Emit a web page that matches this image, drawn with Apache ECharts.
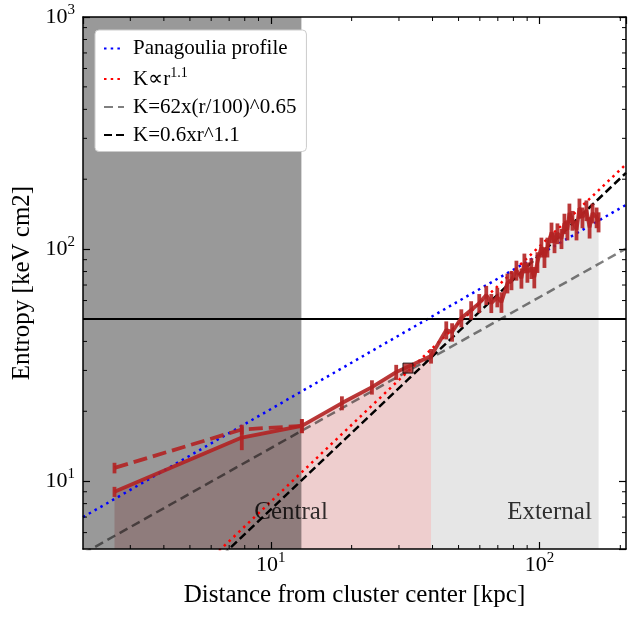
<!DOCTYPE html>
<html>
<head>
<meta charset="utf-8">
<script src="https://cdn.jsdelivr.net/npm/echarts@6/dist/echarts.min.js"></script>
<style>
  html, body { margin: 0; padding: 0; background: #fff; }
  #main { width: 635px; height: 618px; }
</style>
</head>
<body>
<div id="main"></div>
<script>
// entropy profile: radius [kpc], K [keV cm2], error
var rSolid = [2.62, 7.8, 13.05, 18.4, 23.8, 29.3, 39.5, 45.0, 47.3, 51.2, 55.7, 59.7, 63.4, 66.2, 69.7,
  72.2, 76.0, 78.7, 82.1, 85.7, 87.9, 90.2, 93.3, 95.7, 98.3, 101.7, 104.4, 107.1, 110.9, 113.8,
  116.7, 120.8, 123.9, 127.1, 129.3, 132.7, 137.4, 140.9, 144.6, 149.6, 153.7, 157.6, 163.2, 166.0];
var kSolid = [9.0, 15.4, 17.3, 21.7, 25.4, 29.5, 34.6, 44.8, 43.9, 50.5, 54.6, 58.5, 63.4, 58.5, 62.1,
  59.1, 71.4, 73.5, 81.1, 75.0, 87.1, 79.6, 82.8, 75.7, 87.9, 102, 92.4, 102, 118, 107,
  117, 111, 129, 121, 143, 133, 121, 150, 137, 147, 124, 143, 137, 131];
var errSolid = [0.45, 1.8, 1.2, 1.5, 1.8, 2.2, 2.5, 4.0, 4.0, 4.5, 5, 5.5, 6, 5.5, 6,
  6, 7, 7, 8, 7.5, 8.5, 8, 8.5, 8, 9, 10, 9.5, 10, 12, 11,
  12, 11, 13, 12, 14, 13, 12, 15, 14, 15, 13, 14, 14, 13];
var rDash = [2.62, 7.8, 13.05];
var kDash = [11.4, 16.7, 17.3];
var errDash = [0.6, 0.8, 1.2];
var rSquare = [32.4];
var kSquare = [30.7];

// model lines, read at both ends of the x range
var rEnds = [2, 210];
var kPanagoulia = [7.0, 155];
var kSlope = [1.39, 232];
var kFit065 = [4.87, 100.5];
var kFit11 = [1.29, 213];
var kLevel = [50, 50];

var bandR = [2, 13];
var pinkCount = 7;           // points under the pink fill (up to 39.5 kpc)

var noteText = ['Central', 'External'];
var noteR = [11.9, 109];
var noteK = [7.3, 7.3];

var xMin = 2, xMax = 210, yMin = 5.1, yMax = 1000;
var xMinor = [3, 4, 5, 6, 7, 8, 9, 20, 30, 40, 50, 60, 70, 80, 90, 200];
var yMinor = [6, 7, 8, 9, 20, 30, 40, 50, 60, 70, 80, 90, 200, 300, 400, 500, 600, 700, 800, 900];

var FONT = 'Liberation Serif';
var RED = 'rgba(178,34,34,0.9)';

function pts(xs, ys) {
  return xs.map(function (x, i) { return [x, ys[i]]; });
}
function errPts(xs, ys, es) {
  return xs.map(function (x, i) { return [x, ys[i] - es[i], ys[i] + es[i]]; });
}
function powLabel(v) {
  var l = Math.log10(v), e = Math.round(l);
  if (Math.abs(l - e) > 1e-6) return '';
  return '{b|10}{s|' + e + '}';
}
var labelRich = {
  b: { fontSize: 22, fontFamily: FONT, color: '#000' },
  s: { fontSize: 15, fontFamily: FONT, color: '#000', padding: [0, 0, 14, 0] }
};
var spine = { show: true, lineStyle: { color: '#000', width: 1.5 } };
var tick = { show: true, inside: true, length: 7, lineStyle: { color: '#000', width: 1.2 } };

var chart = echarts.init(document.getElementById('main'));
var solidPts = pts(rSolid, kSolid);

var option = {
  animation: false,
  grid: { left: 83, right: 9, top: 17, bottom: 69 },
  legend: {
    data: ['Panagoulia profile', 'K\u221dr', 'K=62x(r/100)^0.65', 'K=0.6xr^1.1'],
    orient: 'vertical',
    left: 95,
    top: 30,
    z: 20,
    padding: [8, 10, 6, 8],
    itemGap: 7,
    itemWidth: 20,
    itemHeight: 14,
    backgroundColor: '#fff',
    borderColor: '#ccc',
    borderWidth: 1,
    borderRadius: 4,
    itemStyle: { opacity: 0 },
    formatter: function (name) {
      if (name === 'K\u221dr') return '{t|K\u221dr}{s|1.1}';
      return '{t|' + name + '}';
    },
    textStyle: {
      color: '#000',
      fontFamily: FONT,
      fontSize: 21,
      padding: [0, 0, 0, 4],
      rich: {
        t: { fontSize: 21, fontFamily: FONT, color: '#000' },
        s: { fontSize: 14, fontFamily: FONT, color: '#000', padding: [0, 0, 12, 0] }
      }
    }
  },
  xAxis: [{
    type: 'log', logBase: 10, min: xMin, max: xMax, z: 10,
    axisLine: spine, axisTick: tick, splitLine: { show: false },
    axisLabel: { formatter: powLabel, rich: labelRich, margin: 2, showMinLabel: false, showMaxLabel: false },
    name: 'Distance from cluster center [kpc]', nameLocation: 'middle', nameGap: 34,
    nameTextStyle: { fontFamily: FONT, fontSize: 25, color: '#000' }
  }, {
    type: 'log', logBase: 10, min: xMin, max: xMax, position: 'top', z: 10,
    axisLine: spine, axisTick: tick, splitLine: { show: false }, axisLabel: { show: false }
  }],
  yAxis: [{
    type: 'log', logBase: 10, min: yMin, max: yMax, z: 10,
    axisLine: spine, axisTick: tick, splitLine: { show: false },
    axisLabel: { formatter: powLabel, rich: labelRich, margin: 8, showMinLabel: false },
    name: 'Entropy [keV cm2]', nameLocation: 'middle', nameGap: 45,
    nameTextStyle: { fontFamily: FONT, fontSize: 25, color: '#000' }
  }, {
    type: 'log', logBase: 10, min: yMin, max: yMax, position: 'right', z: 10,
    axisLine: spine, axisTick: tick, splitLine: { show: false }, axisLabel: { show: false }
  }],
  series: [
    {
      name: 'pinkFill', type: 'line', z: 1, silent: true, symbol: 'none',
      data: solidPts.slice(0, pinkCount),
      lineStyle: { width: 0 },
      areaStyle: { color: 'rgba(178,34,34,0.22)', origin: 'start', opacity: 1 }
    },
    {
      name: 'grayFill', type: 'line', z: 1, silent: true, symbol: 'none',
      data: solidPts.slice(pinkCount - 1),
      lineStyle: { width: 0 },
      areaStyle: { color: 'rgba(128,128,128,0.2)', origin: 'start', opacity: 1 }
    },
    {
      name: 'K=62x(r/100)^0.65', type: 'line', z: 2, symbol: 'none',
      data: pts(rEnds, kFit065),
      lineStyle: { color: 'rgba(0,0,0,0.5)', width: 2.5, type: [9, 5] },
      itemStyle: { color: 'rgba(0,0,0,0.5)' }
    },
    {
      name: 'centralBand', type: 'line', z: 3, silent: true, symbol: 'none',
      data: [[bandR[0], yMax], [bandR[1], yMax]],
      lineStyle: { width: 0 },
      areaStyle: { color: 'rgba(0,0,0,0.4)', origin: 'start', opacity: 1 }
    },
    {
      name: 'Panagoulia profile', type: 'line', z: 4, symbol: 'none',
      data: pts(rEnds, kPanagoulia),
      lineStyle: { color: '#0000ff', width: 2.5, type: [2.5, 4.2] },
      itemStyle: { color: '#0000ff' }
    },
    {
      name: 'K\u221dr', type: 'line', z: 4, symbol: 'none',
      data: pts(rEnds, kSlope),
      lineStyle: { color: '#ff0000', width: 2.5, type: [2.5, 4.2] },
      itemStyle: { color: '#ff0000' }
    },
    {
      name: 'K=0.6xr^1.1', type: 'line', z: 4, symbol: 'none',
      data: pts(rEnds, kFit11),
      lineStyle: { color: '#000', width: 2.5, type: [8, 4] },
      itemStyle: { color: '#000' }
    },
    {
      name: 'level', type: 'line', z: 4, symbol: 'none',
      data: pts(rEnds, kLevel),
      lineStyle: { color: '#000', width: 2 }
    },
    {
      name: 'dashProfile', type: 'line', z: 5, symbol: 'none',
      data: pts(rDash, kDash),
      lineStyle: { color: RED, width: 3.8, type: [14, 6] }
    },
    {
      name: 'solidProfile', type: 'line', z: 5, symbol: 'none',
      data: solidPts,
      lineStyle: { color: RED, width: 3.8 }
    },
    {
      name: 'errors', type: 'custom', z: 5, silent: true,
      data: errPts(rSolid, kSolid, errSolid).concat(errPts(rDash, kDash, errDash)),
      encode: { x: 0, y: [1, 2] },
      renderItem: function (params, api) {
        var lo = api.coord([api.value(0), api.value(1)]);
        var hi = api.coord([api.value(0), api.value(2)]);
        return {
          type: 'line',
          shape: { x1: lo[0], y1: lo[1], x2: hi[0], y2: hi[1] },
          style: { stroke: RED, lineWidth: 3.8 }
        };
      }
    },
    {
      name: 'square', type: 'scatter', z: 6, symbol: 'rect', symbolSize: 10,
      data: pts(rSquare, kSquare),
      itemStyle: { color: '#b22222', borderColor: '#000', borderWidth: 1 }
    },
    {
      name: 'notes', type: 'scatter', z: 6, silent: true, symbol: 'rect', symbolSize: 1,
      data: noteText.map(function (t, i) { return { name: t, value: [noteR[i], noteK[i]] }; }),
      itemStyle: { color: 'rgba(0,0,0,0)' },
      label: {
        show: true, position: 'inside', formatter: '{b}',
        color: '#000', fontFamily: FONT, fontSize: 25
      }
    },
    {
      name: 'xMinorTicks', type: 'custom', z: 10, silent: true,
      data: xMinor.map(function (v) { return [v, yMin]; }),
      renderItem: function (params, api) {
        var cs = params.coordSys;
        var x = api.coord([api.value(0), api.value(1)])[0];
        var b = cs.y + cs.height;
        var st = { stroke: '#000', lineWidth: 1 };
        return { type: 'group', children: [
          { type: 'line', shape: { x1: x, y1: b, x2: x, y2: b - 4 }, style: st },
          { type: 'line', shape: { x1: x, y1: cs.y, x2: x, y2: cs.y + 4 }, style: st }
        ] };
      }
    },
    {
      name: 'yMinorTicks', type: 'custom', z: 10, silent: true,
      data: yMinor.map(function (v) { return [xMin, v]; }),
      renderItem: function (params, api) {
        var cs = params.coordSys;
        var y = api.coord([api.value(0), api.value(1)])[1];
        var r = cs.x + cs.width;
        var st = { stroke: '#000', lineWidth: 1 };
        return { type: 'group', children: [
          { type: 'line', shape: { x1: cs.x, y1: y, x2: cs.x + 4, y2: y }, style: st },
          { type: 'line', shape: { x1: r, y1: y, x2: r - 4, y2: y }, style: st }
        ] };
      }
    }
  ]
};

chart.setOption(option);
</script>
</body>
</html>
